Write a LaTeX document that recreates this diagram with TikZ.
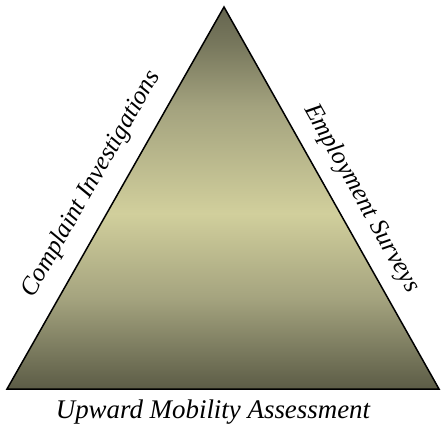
\documentclass[tikz,border=0pt]{standalone}
\usepackage{fontspec}
\setmainfont{Liberation Serif}
\definecolor{topc}{HTML}{65654F}
\definecolor{up2}{HTML}{78785D}
\definecolor{upc}{HTML}{A3A27E}
\definecolor{midc}{HTML}{D1CF9C}
\definecolor{lowc}{HTML}{A5A47F}
\definecolor{low2}{HTML}{7A7A5E}
\definecolor{botc}{HTML}{5C5C46}
\pgfdeclareverticalshading{trishade}{100bp}{color(0bp)=(botc); color(25bp)=(botc); color(30bp)=(low2); color(37bp)=(lowc); color(48bp)=(midc); color(62bp)=(upc); color(70bp)=(up2); color(75bp)=(topc); color(100bp)=(topc)}
\tikzset{
  lbl/.style={font=\itshape\fontsize{27}{30}\selectfont, inner sep=0pt},
  sidelbl/.style={font=\itshape\fontsize{25.5}{29}\selectfont, inner sep=0pt},
  tri/.style={draw=black, line width=1.5bp, line join=miter, shading=trishade}
}
\begin{document}
\begin{tikzpicture}[x=1bp,y=1bp]
\useasboundingbox (0,0) rectangle (443,429);
\coordinate (A) at (224,422);
\coordinate (B) at (7,40);
\coordinate (C) at (439,40);
\path[tri] (A) -- (B) -- (C) -- cycle;
\path (B) -- (A) node[sidelbl, pos=0.5, sloped, above=16bp] (left) {Complaint Investigations};
\path (A) -- (C) node[sidelbl, pos=0.535, sloped, above=14bp] (right) {Employment Surveys};
\node[lbl, anchor=base] (bottom) at (213,11) {Upward Mobility Assessment};
\end{tikzpicture}
\end{document}
